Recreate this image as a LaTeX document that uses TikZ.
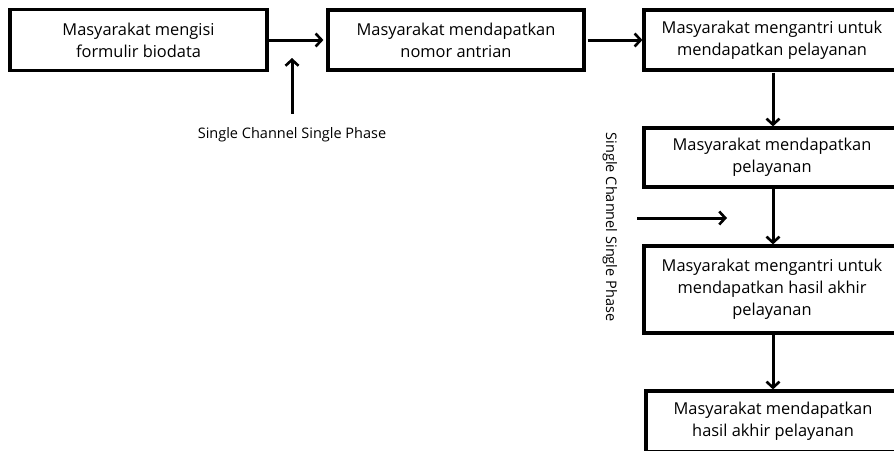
\documentclass[tikz,border=0pt]{standalone}
\usepackage{fontspec}
\setmainfont{Open Sans}
\usetikzlibrary{arrows.meta}
\begin{document}
\begin{tikzpicture}[x=1pt,y=-1pt,
  box/.style={draw,line width=3.2pt,align=center,inner sep=0pt,
    font=\fontsize{16.4}{22}\selectfont},
  conn/.style={line width=3pt,-{Straight Barb[length=6pt,width=13pt,line width=2.6pt]}},
  lbl/.style={font=\fontsize{14.5}{16}\selectfont,inner sep=0pt}]
\useasboundingbox (0,0) rectangle (894,450);
\clip (0,0) rectangle (894,450);
\node[box,minimum width=257pt,minimum height=61pt] (b1) at (138.5,40) {Masyarakat mengisi\\formulir biodata};
\node[box,minimum width=256pt,minimum height=60pt] (b2) at (456,40) {Masyarakat mendapatkan\\nomor antrian};
\node[box,minimum width=256pt,minimum height=60pt] (b3) at (772,40) {Masyarakat mengantri untuk\\mendapatkan pelayanan};
\node[box,minimum width=256pt,minimum height=59pt] (b4) at (772,157.5) {Masyarakat mendapatkan\\pelayanan};
\node[box,minimum width=256pt,minimum height=87pt] (b5) at (772,289.5) {Masyarakat mengantri untuk\\mendapatkan hasil akhir\\pelayanan};
\node[box,minimum width=254pt,minimum height=61pt] (b6) at (773,421.5) {Masyarakat mendapatkan\\hasil akhir pelayanan};
\draw[conn,shorten >=3pt] (b1.east) -- (b2.west);
\draw[conn,shorten <=2pt] (b2.east) -- (b3.west);
\draw[conn,shorten <=1pt] (b3.south -| 773,0) -- (b4.north -| 773,0);
\draw[conn] (b4.south -| 773,0) -- (b5.north -| 773,0);
\draw[conn] (b5.south -| 773,0) -- (b6.north -| 773,0);
\node[lbl] (l1) at (292,135) {Single Channel Single Phase};
\draw[conn,shorten <=14pt] (l1.north) -- (292,58);
\node[lbl,rotate=-90] (l2) at (610,227) {Single Channel Single Phase};
\coordinate (h1) at (637,218);
\coordinate (h2) at (727,218);
\draw[conn] (h1) -- (h2);
\end{tikzpicture}
\end{document}
